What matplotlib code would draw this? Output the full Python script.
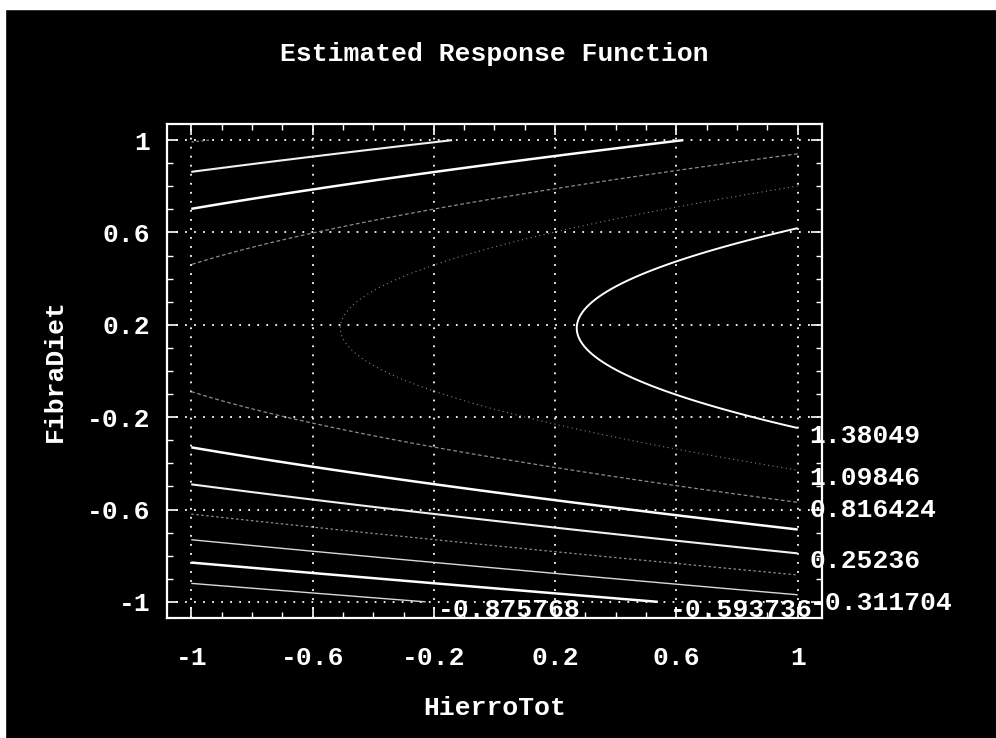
import numpy as np
import matplotlib
matplotlib.use("Agg")
import matplotlib.pyplot as plt
from matplotlib.patches import Rectangle

# fitted second order model in coded units
coef_const = 1.2298
coef_hierro = 0.3645
coef_fibra = 0.5483
coef_hierro2 = 0.0118
coef_fibra2 = -1.475
coef_cross = 0.0

# contour levels drawn on the chart, and the ones that carry a label
contour_levels = [-0.875768, -0.593736, -0.311704, -0.029672, 0.25236,
                  0.534392, 0.816424, 1.09846, 1.38049]
labelled_levels = [-0.875768, -0.593736, -0.311704, 0.25236,
                   0.816424, 1.09846, 1.38049]

x_ticks = [-1, -0.6, -0.2, 0.2, 0.6, 1]
y_ticks = [-1, -0.6, -0.2, 0.2, 0.6, 1]
x_tick_labels = ["-1", "-0.6", "-0.2", "0.2", "0.6", "1"]
y_tick_labels = ["-1", "-0.6", "-0.2", "0.2", "0.6", "1"]

# line look per level (scan shows some bright, some faint)
line_colors = ["#d8d8d8", "white", "#d8d8d8", "#8c8c8c", "#f0f0f0",
               "white", "#8c8c8c", "#808080", "white"]
line_widths = [1.0, 1.8, 1.0, 0.9, 1.5, 1.8, 0.9, 0.8, 1.4]
line_styles = ["solid", "solid", "solid", (0, (2, 2)), "solid",
               "solid", (0, (3, 2)), (0, (1, 3)), "solid"]

plt.rcParams["axes.unicode_minus"] = False
plt.rcParams["font.family"] = ["Liberation Mono", "DejaVu Sans Mono"]
plt.rcParams["font.weight"] = "bold"
fs = 19

fig = plt.figure(figsize=(9.96, 7.38), dpi=100, facecolor="black")
# white edge of the scanned page
fig.patches.append(Rectangle((0, 1 - 9 / 738), 1, 9 / 738, transform=fig.transFigure,
                             color="white", zorder=0))
fig.patches.append(Rectangle((0, 0), 5 / 996, 1, transform=fig.transFigure,
                             color="white", zorder=0))

ax = fig.add_axes([167 / 996, 1 - 618 / 738, 655 / 996, 494 / 738])
ax.set_facecolor("black")

hx = np.linspace(-1, 1, 301)
fy = np.linspace(-1, 1, 301)
HX, FY = np.meshgrid(hx, fy)
Z = (coef_const + coef_hierro * HX + coef_fibra * FY + coef_hierro2 * HX ** 2
     + coef_fibra2 * FY ** 2 + coef_cross * HX * FY)

cs = ax.contour(HX, FY, Z, levels=contour_levels, colors=line_colors,
                linewidths=line_widths, linestyles=line_styles, zorder=3)

# labels sit just after the lower end of each contour
for i, lev in enumerate(contour_levels):
    if lev not in labelled_levels:
        continue
    ends = []
    for seg in cs.allsegs[i]:
        for p in (seg[0], seg[-1]):
            if p[1] < 0.19:
                ends.append(p)
    if not ends:
        continue
    end = max(ends, key=lambda p: p[0])
    ax.annotate("%g" % lev, xy=(end[0], end[1]), xytext=(12, -8),
                textcoords="offset pixels", ha="left", va="center",
                color="white", fontsize=fs, annotation_clip=False, zorder=5)

ax.set_xlim(-1.08, 1.08)
ax.set_ylim(-1.07, 1.07)
ax.set_xticks(x_ticks, x_tick_labels)
ax.set_yticks(y_ticks, y_tick_labels)
ax.set_xticks(np.arange(-1, 1.01, 0.1), minor=True)
ax.set_yticks(np.arange(-1, 1.01, 0.1), minor=True)
ax.tick_params(which="both", direction="in", top=True, right=True,
               colors="white", labelsize=fs)
ax.tick_params(which="major", length=8, width=1.2)
ax.tick_params(which="minor", length=4, width=1.0)
ax.tick_params(axis="x", pad=20)
ax.tick_params(axis="y", pad=12)
ax.grid(True, which="major", color="white", linestyle=(0, (1, 4)), linewidth=1.3)
for s in ax.spines.values():
    s.set_color("white")
    s.set_linewidth(1.6)

ax.set_title("Estimated Response Function", color="white", fontsize=fs,
             fontweight="bold", y=(618 - 62) / 494, va="center")
ax.set_xlabel("HierroTot", color="white", fontsize=fs, fontweight="bold")
ax.xaxis.set_label_coords(0.5, (618 - 708) / 494)
ax.xaxis.label.set_va("center")
ax.set_ylabel("FibraDiet", color="white", fontsize=fs, fontweight="bold")
ax.yaxis.set_label_coords((55 - 167) / 655, 0.5)
ax.yaxis.label.set_va("center")

fig.savefig("out.png", dpi=100, facecolor="black")
